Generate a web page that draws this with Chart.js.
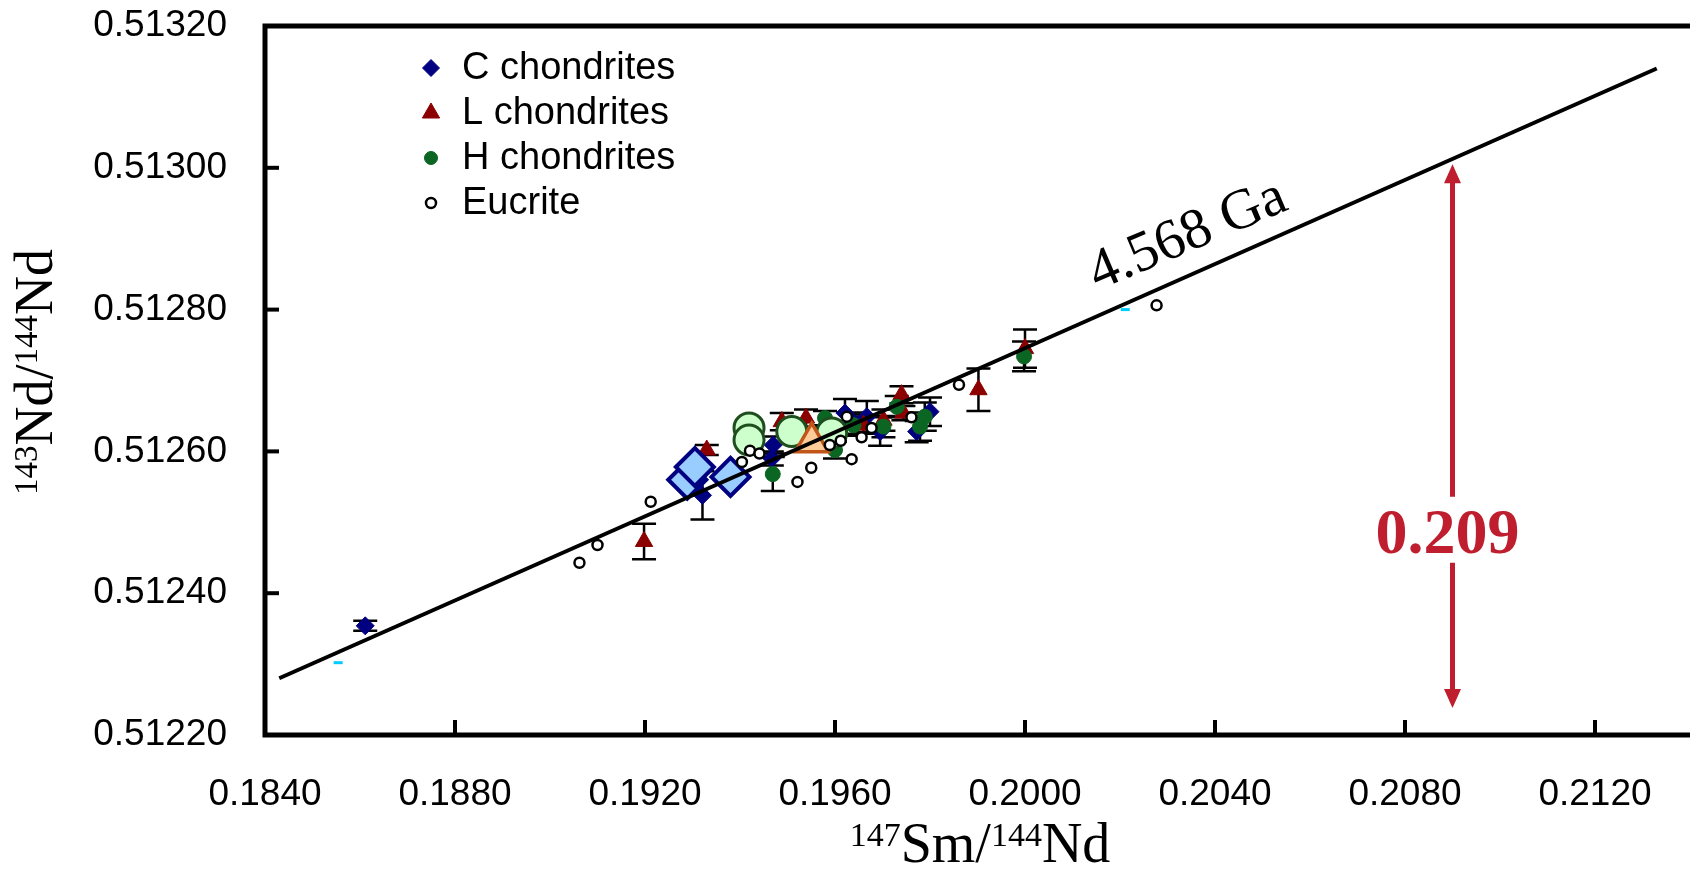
<!DOCTYPE html>
<html>
<head>
<meta charset="utf-8">
<script src="https://cdn.jsdelivr.net/npm/chart.js@4/dist/chart.umd.min.js"></script>
<style>
html, body { margin: 0; padding: 0; background: #fff; }
#wrap { width: 1690px; height: 869px; position: relative; }
</style>
</head>
<body>
<div id="wrap"><canvas id="isochron"></canvas></div>
<script>
// axis ticks
var xTicks = [0.1840, 0.1880, 0.1920, 0.1960, 0.2000, 0.2040, 0.2080, 0.2120];
var yTicks = [0.51220, 0.51240, 0.51260, 0.51280, 0.51300, 0.51320];

// C chondrites
var cX = [0.18611, 0.19321, 0.19470, 0.19467, 0.19621, 0.19667, 0.19695, 0.19800, 0.19772, 0.19640];
var cY = [0.512354, 0.512538, 0.512609, 0.512590, 0.512654, 0.512649, 0.512628, 0.512656, 0.512628, 0.512640];
var cErr = [0.000007, 0.000034, 0.000012, 0.000010, 0.000020, 0.000022, 0.000020, 0.000020, 0.000015, 0.000015];

// L chondrites
var lX = [0.19198, 0.19330, 0.19488, 0.19539, 0.19740, 0.19744, 0.19902, 0.20000, 0.19702, 0.19660];
var lY = [0.512473, 0.512602, 0.512642, 0.512647, 0.512680, 0.512654, 0.512687, 0.512745, 0.512644, 0.512637];
var lErr = [0.000025, 0.000007, 0.000012, 0.000012, 0.000012, 0.000010, 0.000030, 0.000027, 0.000015, 0.000012];

// H chondrites
var hX = [0.19469, 0.19579, 0.19600, 0.19730, 0.19789, 0.19779, 0.19998, 0.19639, 0.19702];
var hY = [0.512568, 0.512647, 0.512602, 0.512663, 0.512649, 0.512635, 0.512734, 0.512637, 0.512635];
var hErr = [0.000024, 0.000010, 0.000012, 0.000015, 0.000020, 0.000020, 0.000021, 0.000015, 0.000015];

// Eucrite
var eX = [0.19062, 0.19100, 0.19212, 0.19404, 0.19421, 0.19441, 0.19521, 0.19550, 0.19589, 0.19612, 0.19635, 0.19625, 0.19656, 0.19677, 0.19761, 0.19861, 0.20277];
var eY = [0.512443, 0.512468, 0.512529, 0.512585, 0.512601, 0.512597, 0.512557, 0.512577, 0.512609, 0.512615, 0.512589, 0.512649, 0.512620, 0.512633, 0.512648, 0.512694, 0.512806];

// group averages (large symbols)
var cAvgX = [0.19289, 0.19305, 0.19380];
var cAvgY = [0.512560, 0.512578, 0.512564];
var hAvgX = [0.19419, 0.19419, 0.19509, 0.19593];
var hAvgY = [0.512633, 0.512616, 0.512628, 0.512626];
var lAvgX = [0.19551];
var lAvgY = [0.512613];

// stray cyan marks
var cyanX = [0.18554, 0.20211];
var cyanY = [0.512302, 0.512800];

// isochron line end points
var lineX = [0.1843, 0.2133];
var lineY = [0.51228, 0.51314];

// annotations
var ageLabel = '4.568 Ga';
var ageAt = [0.20343, 0.512904];
var arrowX = 0.209;
var arrowTop = 0.513005, arrowBottom = 0.512238;
var arrowGap = [0.512536, 0.512443];
var arrowLabel = '0.209';
var arrowLabelY = 0.512484;

var SANS = '"Liberation Sans", Arial, sans-serif';
var SERIF = '"Liberation Serif", "Times New Roman", serif';
var RED = '#BE1E2D';

function pts(xs, ys) {
    return xs.map(function (x, i) { return { x: x, y: ys[i] }; });
}

var errorBars = {
    id: 'errorBars',
    beforeDatasetsDraw: function (chart) {
        var ctx = chart.ctx, xs = chart.scales.x, ys = chart.scales.y;
        ctx.save();
        ctx.strokeStyle = '#000';
        ctx.lineWidth = 2.5;
        chart.data.datasets.forEach(function (ds) {
            if (!ds.yErr) return;
            ds.data.forEach(function (p, i) {
                var px = xs.getPixelForValue(p.x);
                var top = ys.getPixelForValue(p.y + ds.yErr[i]);
                var bot = ys.getPixelForValue(p.y - ds.yErr[i]);
                ctx.beginPath();
                ctx.moveTo(px, top); ctx.lineTo(px, bot);
                ctx.moveTo(px - 12, top); ctx.lineTo(px + 12, top);
                ctx.moveTo(px - 12, bot); ctx.lineTo(px + 12, bot);
                ctx.stroke();
            });
        });
        ctx.restore();
    }
};

var frame = {
    id: 'frame',
    afterDraw: function (chart) {
        var ctx = chart.ctx, a = chart.chartArea;
        ctx.save();
        ctx.strokeStyle = '#000';
        ctx.lineWidth = 4;
        chart.scales.y.ticks.forEach(function (t) {
            var py = chart.scales.y.getPixelForValue(t.value);
            ctx.beginPath(); ctx.moveTo(a.left, py); ctx.lineTo(a.left + 14, py); ctx.stroke();
        });
        chart.scales.x.ticks.forEach(function (t) {
            var px = chart.scales.x.getPixelForValue(t.value);
            ctx.beginPath(); ctx.moveTo(px, a.bottom); ctx.lineTo(px, a.bottom - 15); ctx.stroke();
        });
        ctx.lineWidth = 5;
        ctx.beginPath();
        ctx.moveTo(a.right + 5, a.top);
        ctx.lineTo(a.left, a.top);
        ctx.lineTo(a.left, a.bottom);
        ctx.lineTo(a.right + 5, a.bottom);
        ctx.stroke();
        ctx.restore();
    }
};

function supText(ctx, parts, size, supSize, cx, baseY) {
    var w = 0;
    parts.forEach(function (p) {
        ctx.font = (p[1] ? supSize : size) + 'px ' + SERIF;
        w += ctx.measureText(p[0]).width;
    });
    var x = cx - w / 2;
    ctx.textAlign = 'left';
    ctx.textBaseline = 'alphabetic';
    parts.forEach(function (p) {
        ctx.font = (p[1] ? supSize : size) + 'px ' + SERIF;
        ctx.fillText(p[0], x, p[1] ? baseY - size * 0.28 : baseY);
        x += ctx.measureText(p[0]).width;
    });
}

var titles = {
    id: 'titles',
    afterDraw: function (chart) {
        var ctx = chart.ctx;
        ctx.save();
        ctx.fillStyle = '#000';
        supText(ctx, [['147', true], ['Sm/', false], ['144', true], ['Nd', false]], 56, 34, 980, 862);
        ctx.translate(52, 372);
        ctx.rotate(-Math.PI / 2);
        supText(ctx, [['143', true], ['Nd/', false], ['144', true], ['Nd', false]], 54, 33, 0, 0);
        ctx.restore();
    }
};

var notes = {
    id: 'notes',
    afterDraw: function (chart) {
        var ctx = chart.ctx, xs = chart.scales.x, ys = chart.scales.y;
        ctx.save();
        // age label along the isochron
        ctx.translate(xs.getPixelForValue(ageAt[0]), ys.getPixelForValue(ageAt[1]));
        ctx.rotate(-23 * Math.PI / 180);
        ctx.fillStyle = '#000';
        ctx.font = '57px ' + SERIF;
        ctx.textAlign = 'center';
        ctx.textBaseline = 'middle';
        ctx.fillText(ageLabel, 0, 0);
        ctx.restore();

        // red double arrow
        var ax = xs.getPixelForValue(arrowX);
        var y1 = ys.getPixelForValue(arrowTop), y2 = ys.getPixelForValue(arrowBottom);
        var g1 = ys.getPixelForValue(arrowGap[0]), g2 = ys.getPixelForValue(arrowGap[1]);
        ctx.save();
        ctx.strokeStyle = RED;
        ctx.fillStyle = RED;
        ctx.lineWidth = 5;
        ctx.beginPath();
        ctx.moveTo(ax, y1 + 16); ctx.lineTo(ax, g1);
        ctx.moveTo(ax, g2); ctx.lineTo(ax, y2 - 16);
        ctx.stroke();
        ctx.beginPath();
        ctx.moveTo(ax, y1); ctx.lineTo(ax - 8.5, y1 + 19); ctx.lineTo(ax + 8.5, y1 + 19); ctx.closePath();
        ctx.moveTo(ax, y2); ctx.lineTo(ax - 8.5, y2 - 19); ctx.lineTo(ax + 8.5, y2 - 19); ctx.closePath();
        ctx.fill();
        ctx.font = 'bold 64px ' + SERIF;
        ctx.textAlign = 'center';
        ctx.textBaseline = 'middle';
        ctx.fillText(arrowLabel, ax - 5, ys.getPixelForValue(arrowLabelY) + 3);
        ctx.restore();
    }
};

var legendBox = {
    id: 'legendBox',
    afterDraw: function (chart) {
        var ctx = chart.ctx;
        var rows = chart.data.datasets.filter(function (ds) { return ds.legendText; });
        rows.sort(function (a, b) { return a.legendRank - b.legendRank; });
        ctx.save();
        rows.forEach(function (ds, i) {
            var y = 68 + i * 45;
            ctx.fillStyle = ds.backgroundColor;
            ctx.strokeStyle = ds.borderColor;
            ctx.lineWidth = ds.borderWidth;
            Chart.helpers.drawPoint(ctx, {
                pointStyle: ds.pointStyle,
                radius: ds.legendRadius,
                rotation: 0,
                borderWidth: ds.borderWidth
            }, 431, y);
            ctx.fillStyle = '#000';
            ctx.font = '38px ' + SANS;
            ctx.textAlign = 'left';
            ctx.textBaseline = 'middle';
            ctx.fillText(ds.legendText, 462, y + 1);
        });
        ctx.restore();
    }
};

function noPad(s) {
    s.paddingTop = 0;
    s.paddingBottom = 0;
    s.paddingLeft = 0;
    s.paddingRight = 0;
}

var datasets = [
    {
        type: 'line',
        data: pts(lineX, lineY),
        borderColor: '#000',
        borderWidth: 4,
        pointRadius: 0,
        order: 0
    },
    {
        legendText: 'Eucrite', legendRank: 4, legendRadius: 5,
        data: pts(eX, eY),
        pointStyle: 'circle',
        pointRadius: 5,
        backgroundColor: '#fff',
        borderColor: '#000',
        borderWidth: 2.5,
        order: 1
    },
    {
        data: pts(lAvgX, lAvgY),
        pointStyle: 'triangle',
        pointRadius: 19,
        backgroundColor: '#FFCC99',
        borderColor: '#C0561A',
        borderWidth: 3.5,
        order: 2
    },
    {
        data: pts(hAvgX, hAvgY),
        pointStyle: 'circle',
        pointRadius: 15,
        backgroundColor: '#CCFFCC',
        borderColor: '#1E4D1E',
        borderWidth: 3,
        order: 3
    },
    {
        data: pts(cAvgX, cAvgY),
        pointStyle: 'rectRot',
        pointRadius: 19,
        backgroundColor: '#99CCFF',
        borderColor: '#000080',
        borderWidth: 4,
        order: 4
    },
    {
        legendText: 'H chondrites', legendRank: 3, legendRadius: 6.5,
        data: pts(hX, hY),
        yErr: hErr,
        pointStyle: 'circle',
        pointRadius: 7.5,
        backgroundColor: '#0B6623',
        borderColor: '#0B6623',
        borderWidth: 1,
        order: 5
    },
    {
        legendText: 'L chondrites', legendRank: 2, legendRadius: 10,
        data: pts(lX, lY),
        yErr: lErr,
        pointStyle: 'triangle',
        pointRadius: 10,
        backgroundColor: '#8B0000',
        borderColor: '#8B0000',
        borderWidth: 1,
        order: 6
    },
    {
        legendText: 'C chondrites', legendRank: 1, legendRadius: 8.5,
        data: pts(cX, cY),
        yErr: cErr,
        pointStyle: 'rectRot',
        pointRadius: 9,
        backgroundColor: '#000080',
        borderColor: '#000080',
        borderWidth: 1,
        order: 7
    },
    {
        data: pts(cyanX, cyanY),
        pointStyle: 'line',
        pointRadius: 4.5,
        backgroundColor: '#00CCFF',
        borderColor: '#00CCFF',
        borderWidth: 3,
        order: 8
    }
];

new Chart(document.getElementById('isochron'), {
    type: 'scatter',
    data: { datasets: datasets },
    options: {
        responsive: true,
        maintainAspectRatio: false,
        animation: false,
        layout: { autoPadding: false, padding: { top: 26, left: 0, right: 0, bottom: 0 } },
        plugins: {
            legend: { display: false },
            tooltip: { enabled: false }
        },
        scales: {
            x: {
                type: 'linear',
                min: 0.184,
                max: 0.214,
                grid: { display: false },
                border: { display: false },
                ticks: {
                    padding: 30,
                    color: '#000',
                    font: { family: SANS, size: 37 },
                    callback: function (v) { return v.toFixed(4); }
                },
                afterBuildTicks: function (s) {
                    s.ticks = xTicks.map(function (v) { return { value: v }; });
                },
                afterFit: function (s) { s.height = 134; noPad(s); }
            },
            y: {
                type: 'linear',
                min: 0.5122,
                max: 0.5132,
                grid: { display: false },
                border: { display: false },
                ticks: {
                    padding: 30,
                    color: '#000',
                    font: { family: SANS, size: 37 },
                    callback: function (v) { return v.toFixed(5); }
                },
                afterBuildTicks: function (s) {
                    s.ticks = yTicks.map(function (v) { return { value: v }; });
                },
                afterFit: function (s) { s.width = 265; noPad(s); }
            }
        }
    },
    plugins: [errorBars, frame, titles, notes, legendBox]
});
</script>
</body>
</html>
